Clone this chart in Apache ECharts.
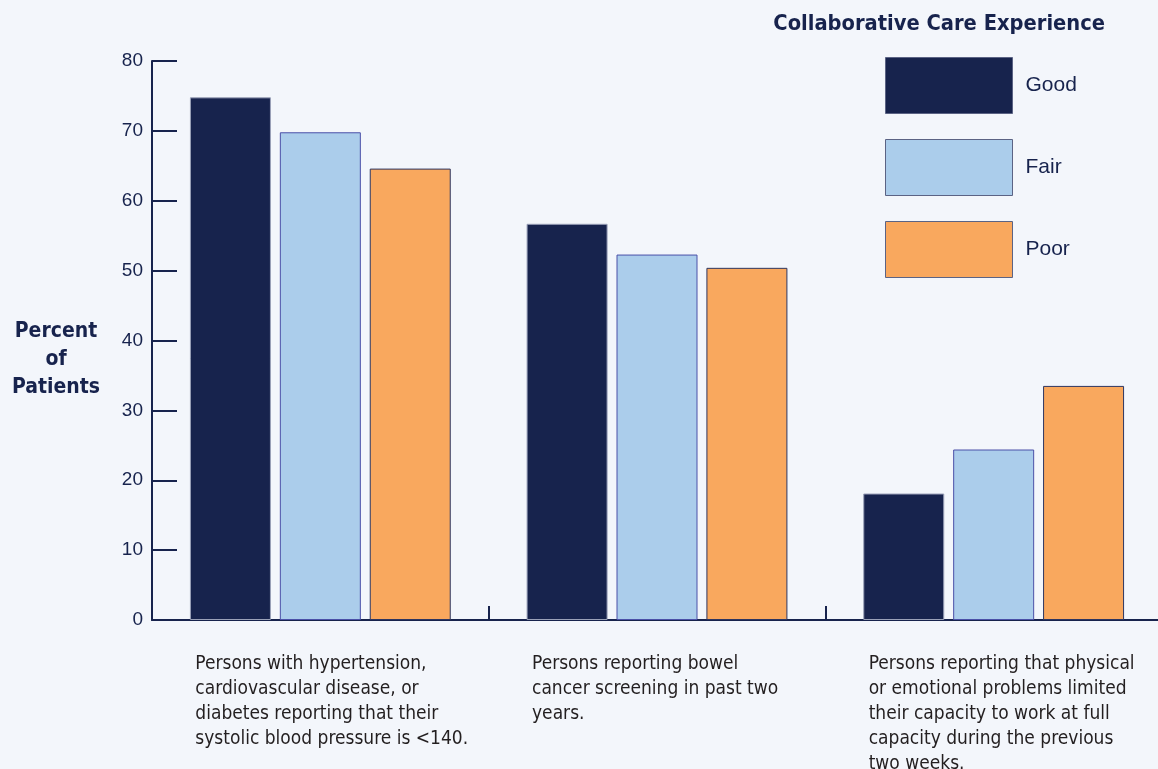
<!DOCTYPE html>
<html>
<head>
<meta charset="utf-8">
<script src="https://cdn.jsdelivr.net/npm/echarts@6/dist/echarts.min.js"></script>
<style>
html,body{margin:0;padding:0;background:#f3f6fb;overflow:hidden;}
#chart{width:1158px;height:769px;}
</style>
</head>
<body>
<div id="chart"></div>
<script>
const categories = [
  "Persons with hypertension,\ncardiovascular disease, or\ndiabetes reporting that their\nsystolic blood pressure is <140.",
  "Persons reporting bowel\ncancer screening in past two\nyears.",
  "Persons reporting that physical\nor emotional problems limited\ntheir capacity to work at full\ncapacity during the previous\ntwo weeks."
];
const seriesNames = ["Good", "Fair", "Poor"];
const goodValues = [74.8, 56.7, 18.1];
const fairValues = [69.8, 52.3, 24.4];
const poorValues = [64.6, 50.4, 33.5];
const yTicks = { min: 0, max: 80, interval: 10 };
const legendTitle = "Collaborative Care Experience";
const yAxisTitle = "Percent\nof\nPatients";

const navy = '#17234d';
const narrow = "'DejaVu Sans Condensed', 'Liberation Sans Narrow', sans-serif";
const regular = "'Liberation Sans', Arial, sans-serif";

const chart = echarts.init(document.getElementById('chart'));
chart.setOption({
  backgroundColor: '#f3f6fb',
  animation: false,
  title: [
    { text: legendTitle, right: 48, top: 8,
      textStyle: { fontFamily: narrow, fontWeight: 'bold', fontSize: 21.7, color: navy } },
    { text: yAxisTitle, left: 51, top: 313, textAlign: 'center',
      textStyle: { fontFamily: narrow, fontWeight: 'bold', fontSize: 21, lineHeight: 28, color: navy } }
  ],
  legend: {
    orient: 'vertical', left: 885, top: 57, padding: 0,
    itemWidth: 127, itemHeight: 56, itemGap: 25,
    icon: 'rect',
    itemStyle: { borderColor: '#5b6384', borderWidth: 1 },
    textStyle: { fontFamily: regular, fontSize: 21, color: navy, padding: [0, 0, 0, 8] },
    data: seriesNames
  },
  grid: { left: 152, right: -4, top: 61, height: 559, containLabel: false, outerBoundsMode: 'none' },
  xAxis: {
    type: 'category',
    data: categories,
    axisLine: { lineStyle: { color: navy, width: 2 } },
    axisTick: { show: true, inside: true, length: 14, lineStyle: { color: navy, width: 2 } },
    axisLabel: {
      interval: 0, margin: 32, align: 'center',
      formatter: v => v.split('\n').map(l => '{a|' + l + '}').join('\n'),
      rich: { a: { width: 250, align: 'left', fontFamily: narrow, fontSize: 19, lineHeight: 25, color: '#231f20' } }
    }
  },
  yAxis: {
    type: 'value', min: yTicks.min, max: yTicks.max, interval: yTicks.interval,
    axisLine: { show: true, lineStyle: { color: navy, width: 2 } },
    axisTick: { show: true, inside: true, length: 25, lineStyle: { color: navy, width: 2 } },
    splitLine: { show: false },
    axisLabel: { fontFamily: regular, fontSize: 19, color: navy, margin: 9 }
  },
  series: [
    { name: seriesNames[0], type: 'bar', data: goodValues, barWidth: 81, barGap: '11%',
      itemStyle: { color: navy, borderColor: '#9aa1b8', borderWidth: 1 } },
    { name: seriesNames[1], type: 'bar', data: fairValues, barWidth: 81, barGap: '11%',
      itemStyle: { color: '#abcdeb', borderColor: '#4a50a8', borderWidth: 1 } },
    { name: seriesNames[2], type: 'bar', data: poorValues, barWidth: 81, barGap: '11%',
      itemStyle: { color: '#f9a85e', borderColor: '#2c3560', borderWidth: 1 } }
  ]
});
</script>
</body>
</html>
